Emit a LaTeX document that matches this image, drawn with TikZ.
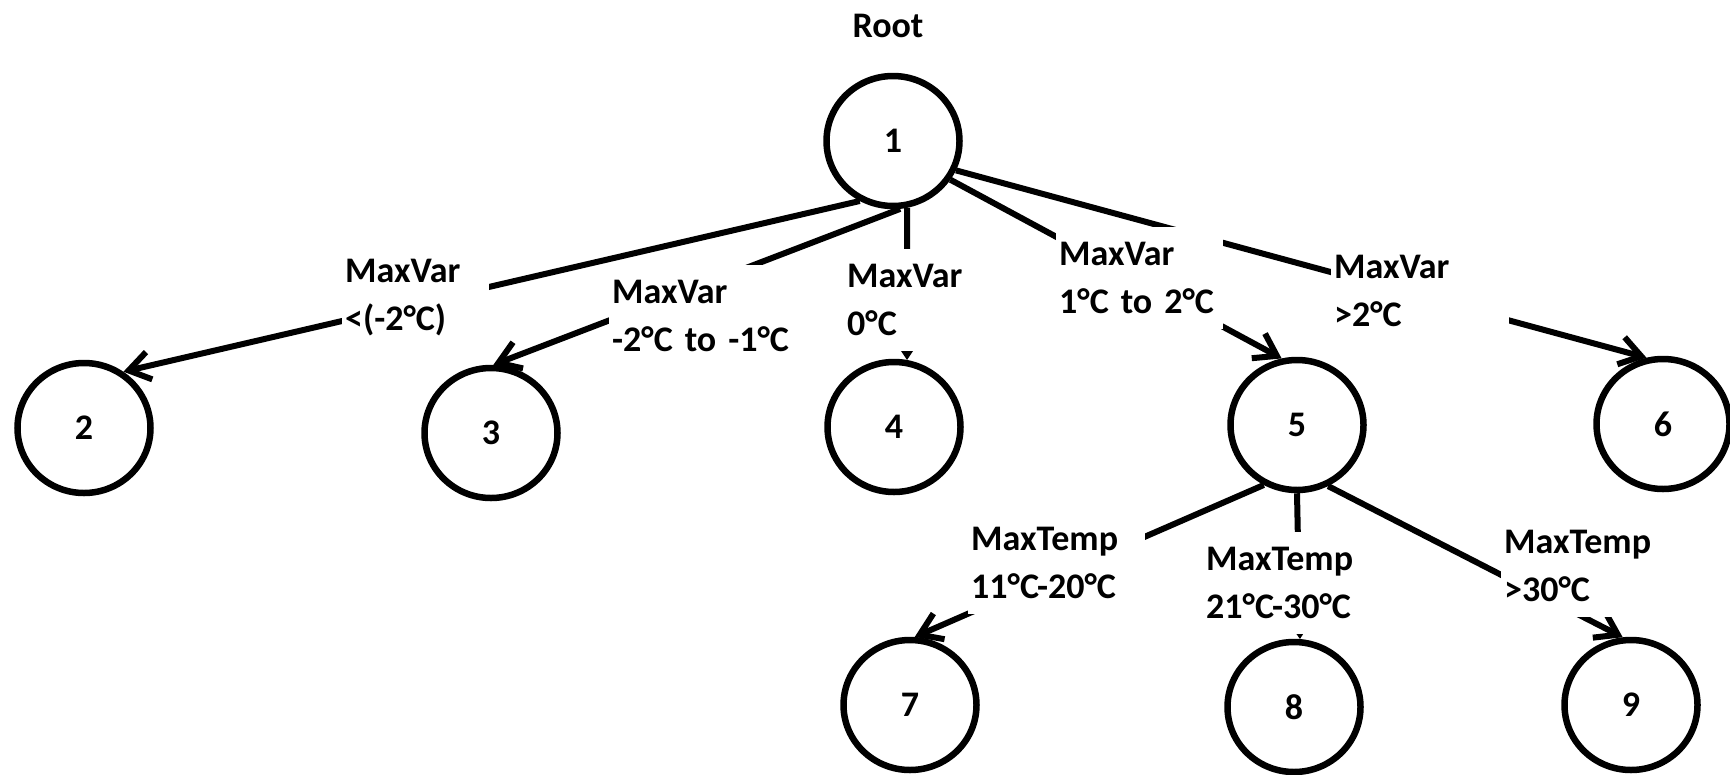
\documentclass[tikz,border=0pt]{standalone}
\usepackage{fontspec}
\setmainfont{Carlito}
\usetikzlibrary{shapes.geometric,arrows.meta}
\newcommand{\dfont}{\fontsize{36}{48}\selectfont\bfseries}
\begin{document}
\begin{tikzpicture}[x=1pt,y=-1pt,
  state/.style={draw, ellipse, line width=6.5pt, minimum width=133pt, minimum height=130pt, inner sep=0pt, font=\dfont},
  edge/.style={line width=6pt, -{Straight Barb[length=21pt,width=28pt]}},
  lbl/.style={fill=white, align=left, inner xsep=3pt, inner ysep=15pt, anchor=north west, font=\dfont}]
\useasboundingbox (0,0) rectangle (1730,774);

\node[font=\dfont] (root) at (888,26) {Root};

\node[state] (n1) at (893,141) {1};
\node[state] (n2) at (84,428) {2};
\node[state] (n3) at (491,433) {3};
\node[state] (n4) at (894,427) {4};
\node[state] (n5) at (1297,425) {5};
\node[state] (n6) at (1663,424) {6};
\node[state] (n7) at (910,705) {7};
\node[state] (n8) at (1294,707) {8};
\node[state] (n9) at (1631,705) {9};

\draw[edge] (n1.-119) -- (n2.55);
\draw[edge] (n1.-84) -- (n3.88);
\draw[edge] (n1.-78) -- (n4.79);
\draw[edge] (n1.-34) -- (n5.103);
\draw[edge] (n1.-25) -- (n6.104);
\draw[edge] (n5.-119) -- (n7.86);
\draw[edge] (n5.-90) -- (n8.85);
\draw[edge] (n5.-63) -- (n9.97);

\node[lbl, text width=141pt] (l2) at (342,244) {MaxVar\\<(-2°C)};
\node[lbl, text width=185pt] (l3) at (609,265) {MaxVar\\-2°C to -1°C};
\node[lbl, text width=130pt] (l4) at (844,249) {MaxVar\\0°C};
\node[lbl, text width=161pt] (l5) at (1056,227) {MaxVar\\1°C to 2°C};
\node[lbl, text width=172pt] (l6) at (1331,240) {MaxVar\\>2°C};
\node[lbl, text width=171pt] (l7) at (968,512) {MaxTemp\\11°C-20°C};
\node[lbl, text width=165pt] (l8) at (1203,532) {MaxTemp\\21°C-30°C};
\node[lbl, text width=165pt] (l9) at (1501,515) {MaxTemp\\>30°C};
\end{tikzpicture}
\end{document}
